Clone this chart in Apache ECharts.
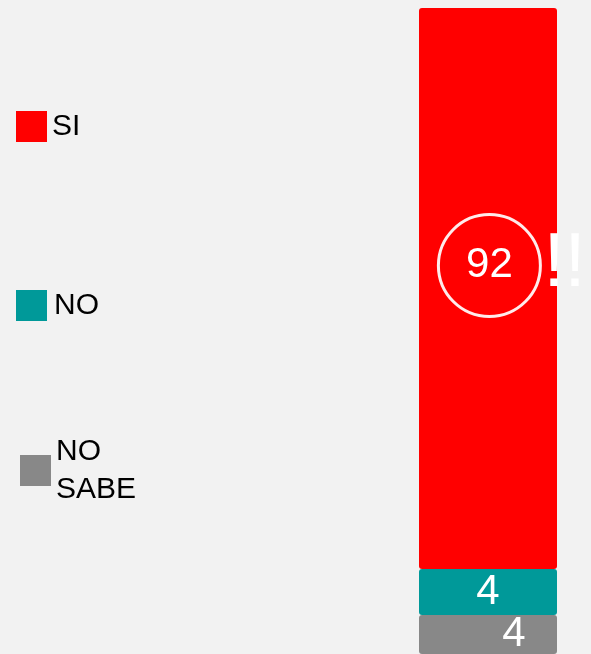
<!DOCTYPE html>
<html>
<head>
<meta charset="utf-8">
<style>
  html, body { margin: 0; padding: 0; background: #f2f2f2; }
  #chart { width: 591px; height: 654px; }
</style>
<script src="https://cdn.jsdelivr.net/npm/echarts@6/dist/echarts.min.js"></script>
</head>
<body>
<div id="chart"></div>
<script>
    const categories = ['Respuesta']
    const seriesNames = ['SI', 'NO', 'NO SABE']
    const siValues = [92]
    const noValues = [4]
    const noSabeValues = [4]
    const colors = ['#ff0000', '#009999', '#888888']

    const font = '"Liberation Sans", Arial, sans-serif'
    let chart = echarts.init(document.getElementById('chart'))

    function legendAt(name, left, top, pad) {
        return {
            data: [name],
            orient: 'vertical',
            left: left,
            top: top,
            padding: 0,
            icon: 'rect',
            itemWidth: 31,
            itemHeight: 31,
            selectedMode: false,
            formatter: function (n) {
                return n.replace(' ', '\n')
            },
            textStyle: {
                color: '#000',
                fontSize: 30,
                lineHeight: 38,
                padding: [5, 0, 0, pad],
                fontFamily: font
            }
        }
    }

    // each segment gets its own grid so the small ones keep their drawn height
    const grids = [
        { left: 419, right: 34, top: 8, height: 561 },
        { left: 419, right: 34, top: 569, height: 46 },
        { left: 419, right: 34, top: 615, height: 46 }
    ]
    const maxes = [siValues[0], noValues[0], noSabeValues[0]]

    let option = {
        backgroundColor: '#f2f2f2',
        animation: false,
        color: colors,
        legend: [
            legendAt('SI', 16, 105, 0),
            legendAt('NO', 16, 284, 2),
            legendAt('NO SABE', 20, 430, 0)
        ],
        grid: grids,
        xAxis: grids.map(function (g, i) {
            return { type: 'category', data: categories, show: false, gridIndex: i }
        }),
        yAxis: grids.map(function (g, i) {
            return { type: 'value', min: 0, max: maxes[i], inverse: true, show: false, gridIndex: i }
        }),
        series: [{
            name: seriesNames[0],
            type: 'bar',
            xAxisIndex: 0,
            yAxisIndex: 0,
            barWidth: '100%',
            data: siValues,
            itemStyle: { borderRadius: 3 },
            label: {
                show: true,
                position: 'inside',
                offset: [24, -23],
                formatter: '{c|{c}}{e|!!}',
                rich: {
                    c: {
                        width: 102,
                        height: 102,
                        align: 'center',
                        borderRadius: 51,
                        borderWidth: 3,
                        borderColor: 'rgba(255,255,255,0.92)',
                        color: '#fff',
                        fontSize: 42,
                        fontFamily: font
                    },
                    e: {
                        color: '#fff',
                        fontSize: 76,
                        padding: [0, 0, 0, 3],
                        fontFamily: font
                    }
                }
            }
        }, {
            name: seriesNames[1],
            type: 'bar',
            xAxisIndex: 1,
            yAxisIndex: 1,
            barWidth: '100%',
            data: noValues,
            itemStyle: { borderRadius: 3 },
            label: {
                show: true,
                position: 'inside',
                color: '#fff',
                fontSize: 42,
                fontFamily: font
            }
        }, {
            name: seriesNames[2],
            type: 'bar',
            xAxisIndex: 2,
            yAxisIndex: 2,
            barWidth: '100%',
            data: noSabeValues,
            itemStyle: { borderRadius: 3 },
            label: {
                show: true,
                position: 'inside',
                offset: [26, 0],
                color: '#fff',
                fontSize: 42,
                fontFamily: font
            }
        }]
    }

    chart.setOption(option)
</script>
</body>
</html>
